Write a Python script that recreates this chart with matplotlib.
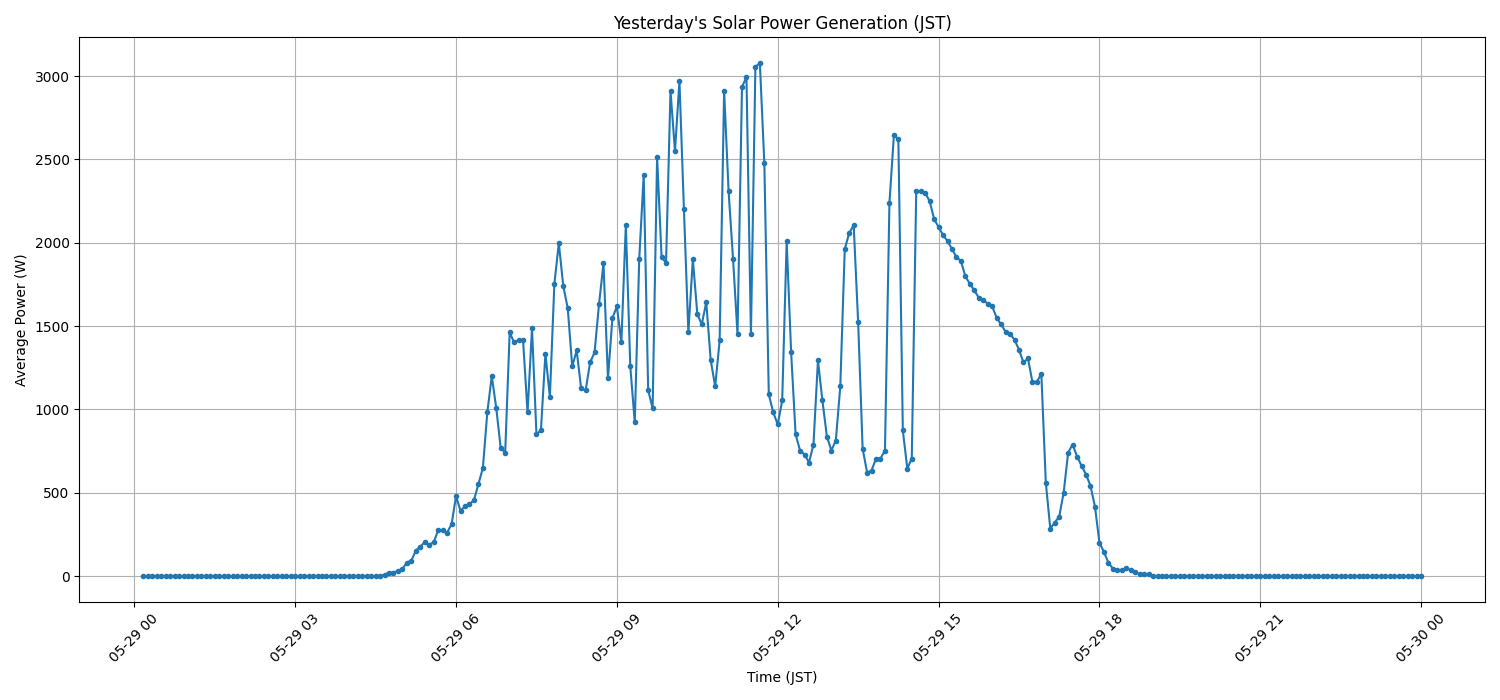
import pandas as pd
import numpy as np
import matplotlib
matplotlib.use("Agg")
import matplotlib.pyplot as plt
import matplotlib.dates as mdates

# 5-minute averages, 00:10 .. 24:00 JST
start = "2025-05-29 00:10"
end = "2025-05-30 00:00"

night_before = [0, 0, 0, 0, 0, 0, 0, 0, 0, 0, 0, 0, 0, 0, 0, 0, 0, 0,
                0, 0, 0, 0, 0, 0, 0, 0, 0, 0, 0, 0, 0, 0, 0, 0, 0, 0,
                0, 0, 0, 0, 0, 0, 0, 0, 0, 0, 0, 0, 0, 0, 0, 0, 0, 0]

daytime = [10, 22, 22, 32, 44, 82, 94, 154, 178, 204, 190, 204, 276, 276,
           262, 312, 480, 392, 420, 432, 456, 552, 648, 984, 1200, 1008,
           768, 742, 1462, 1402, 1416, 1416, 982, 1486, 850, 876, 1334,
           1076, 1750, 1998, 1740, 1608, 1258, 1354, 1126, 1114, 1282, 1342,
           1632, 1876, 1186, 1548, 1618, 1402, 2106, 1258, 922, 1902, 2406,
           1116, 1006, 2514, 1914, 1878, 2910, 2550, 2970, 2202, 1462, 1902,
           1572, 1510, 1644, 1296, 1138, 1414, 2910, 2310, 1902, 1450, 2934,
           2994, 1450, 3054, 3078, 2478, 1090, 982, 910, 1054, 2010, 1342,
           850, 754, 730, 682, 790, 1294, 1054, 838, 754, 814, 1138, 1962,
           2058, 2106, 1522, 766, 622, 634, 706, 706, 754, 2238, 2646, 2622,
           874, 646, 706, 2310, 2310, 2298, 2250, 2142, 2094, 2046, 2010,
           1962, 1914, 1890, 1798, 1754, 1714, 1670, 1658, 1634, 1618, 1550,
           1510, 1466, 1454, 1418, 1358, 1282, 1306, 1166, 1166, 1214, 562,
           286, 322, 358, 502, 742, 790, 718, 662, 610, 542, 418, 202, 146,
           82, 46, 36, 36, 50, 36, 24, 12, 12, 12, 0]

night_after = [0, 0, 0, 0, 0, 0, 0, 0, 0, 0, 0, 0, 0, 0, 0, 0, 0, 0, 0, 0,
               0, 0, 0, 0, 0, 0, 0, 0, 0, 0, 0, 0, 0, 0, 0, 0, 0, 0, 0, 0,
               0, 0, 0, 0, 0, 0, 0, 0, 0, 0, 0, 0, 0, 0, 0, 0, 0, 0, 0, 0]

power = night_before + daytime + night_after
times = pd.date_range(start, end, freq="5min")

df = pd.DataFrame({"time": times, "power": power})

fig, ax = plt.subplots(figsize=(15, 7), dpi=100)
ax.plot(df["time"], df["power"], marker="o", markersize=3, color="tab:blue")
ax.set_title("Yesterday's Solar Power Generation (JST)")
ax.set_xlabel("Time (JST)")
ax.set_ylabel("Average Power (W)")
ax.xaxis.set_major_locator(mdates.HourLocator(byhour=range(0, 24, 3)))
ax.xaxis.set_major_formatter(mdates.DateFormatter("%m-%d %H"))
plt.xticks(rotation=45)
ax.grid(True)
plt.tight_layout()
plt.savefig("out.png")
